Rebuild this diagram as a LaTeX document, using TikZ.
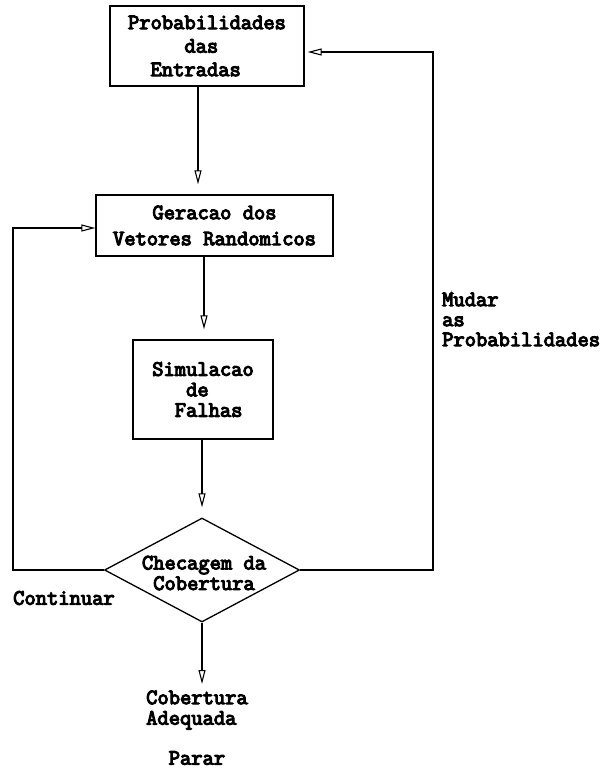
\documentclass[tikz,border=0pt]{standalone}
\usepackage{fontspec}
\setmonofont[FakeBold=5]{Latin Modern Mono}
\newcommand\courfont{\ttfamily}
\usetikzlibrary{arrows.meta,shapes.geometric}
\begin{document}
\begin{tikzpicture}[x=1pt,y=-1pt,
  txt/.style={inner sep=0pt, font=\courfont\fontsize{21.9}{23.5}\selectfont, align=left},
  box/.style={txt, draw, line width=1.3pt},
  arr/.style={-{Triangle[open,length=14pt,width=7pt]}, line width=1.1pt}]
  \useasboundingbox (0,0) rectangle (605,771);

  % boxes of the flow
  \node[box, minimum width=194pt, minimum height=80pt] (b1) at (207,46)
    {Probabilidades\\\phantom{xxxxx}das\\\phantom{xx}Entradas};
  \node[box, align=center, minimum width=237pt, minimum height=61pt,
        font=\courfont\fontsize{21.9}{26}\selectfont] (b2) at (214.5,225.5)
    {Geracao dos\\Vetores Randomicos};
  \node[box, minimum width=140pt, minimum height=99pt,
        font=\courfont\fontsize{21.9}{20.5}\selectfont] (b3) at (203,389.5)
    {Simulacao\\\phantom{xxx}de\\\phantom{xx}Falhas};

  % decision
  \node[diamond, draw, line width=1.3pt, inner sep=0pt,
        minimum width=195pt, minimum height=104pt] (d) at (202,570) {};
  \node[txt, align=center, font=\courfont\fontsize{21.9}{20.5}\selectfont] (dt) at (204,573)
    {Checagem da\\Cobertura};

  % labels
  \node[txt, anchor=west] (cont) at (13,598) {Continuar};
  \node[txt, anchor=west, font=\courfont\fontsize{21.9}{20}\selectfont] (mud) at (442,319.5)
    {Mudar\\as\\Probabilidades};
  \node[txt, anchor=west, font=\courfont\fontsize{21.9}{20.5}\selectfont] (ok) at (146,710)
    {Cobertura\\Adequada};
  \node[txt, anchor=west] (stop) at (146,758) {\phantom{xx}Parar};

  % helper coordinates for the connectors
  \coordinate (xa) at (198,0);
  \coordinate (xb) at (204,0);
  \coordinate (L) at (13,0);
  \coordinate (yL) at (0,228);
  \coordinate (R) at (433,0);
  \coordinate (yR) at (0,52);
  \coordinate (e) at (0,684);

  % connectors
  \draw[arr, shorten >=10pt] (b1.south -| xa) -- (b2.north -| xa);
  \draw[arr, shorten >=10pt] (b2.south -| xb) -- (b3.north -| xb);
  \draw[arr, shorten >=10pt] (b3.south -| d.north) -- (d.north);
  \draw[arr] (d.west) -- (d.west -| L) -- (L |- yL) -- (b2.west |- yL);
  \draw[arr, shorten >=3pt] (d.east) -- (d.east -| R) -- (R |- yR) -- (b1.east |- yR);
  \draw[arr] (d.south) -- (d.south |- e);
\end{tikzpicture}
\end{document}
